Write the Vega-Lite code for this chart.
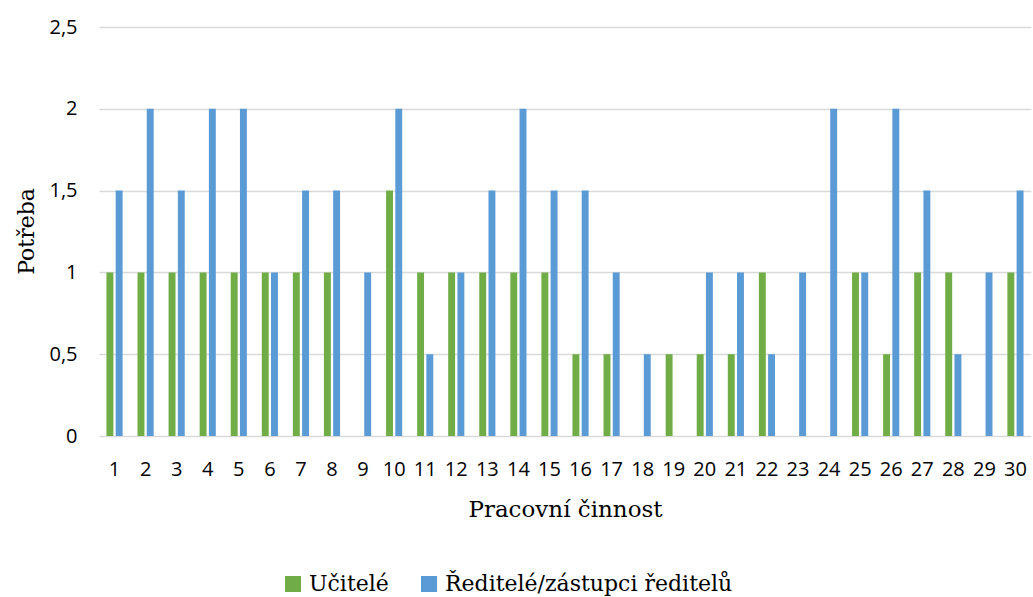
{
  "$schema": "https://vega.github.io/schema/vega-lite/v6.json",
  "width": 932,
  "height": 409,
  "autosize": "none",
  "padding": {"left": 99, "top": 27, "right": 2, "bottom": 161},
  "background": "white",
  "data": {
    "values": [
      {"c": 1, "s": "Učitelé", "v": 1}, {"c": 1, "s": "Ředitelé/zástupci ředitelů", "v": 1.5},
      {"c": 2, "s": "Učitelé", "v": 1}, {"c": 2, "s": "Ředitelé/zástupci ředitelů", "v": 2},
      {"c": 3, "s": "Učitelé", "v": 1}, {"c": 3, "s": "Ředitelé/zástupci ředitelů", "v": 1.5},
      {"c": 4, "s": "Učitelé", "v": 1}, {"c": 4, "s": "Ředitelé/zástupci ředitelů", "v": 2},
      {"c": 5, "s": "Učitelé", "v": 1}, {"c": 5, "s": "Ředitelé/zástupci ředitelů", "v": 2},
      {"c": 6, "s": "Učitelé", "v": 1}, {"c": 6, "s": "Ředitelé/zástupci ředitelů", "v": 1},
      {"c": 7, "s": "Učitelé", "v": 1}, {"c": 7, "s": "Ředitelé/zástupci ředitelů", "v": 1.5},
      {"c": 8, "s": "Učitelé", "v": 1}, {"c": 8, "s": "Ředitelé/zástupci ředitelů", "v": 1.5},
      {"c": 9, "s": "Učitelé", "v": 0}, {"c": 9, "s": "Ředitelé/zástupci ředitelů", "v": 1},
      {"c": 10, "s": "Učitelé", "v": 1.5}, {"c": 10, "s": "Ředitelé/zástupci ředitelů", "v": 2},
      {"c": 11, "s": "Učitelé", "v": 1}, {"c": 11, "s": "Ředitelé/zástupci ředitelů", "v": 0.5},
      {"c": 12, "s": "Učitelé", "v": 1}, {"c": 12, "s": "Ředitelé/zástupci ředitelů", "v": 1},
      {"c": 13, "s": "Učitelé", "v": 1}, {"c": 13, "s": "Ředitelé/zástupci ředitelů", "v": 1.5},
      {"c": 14, "s": "Učitelé", "v": 1}, {"c": 14, "s": "Ředitelé/zástupci ředitelů", "v": 2},
      {"c": 15, "s": "Učitelé", "v": 1}, {"c": 15, "s": "Ředitelé/zástupci ředitelů", "v": 1.5},
      {"c": 16, "s": "Učitelé", "v": 0.5}, {"c": 16, "s": "Ředitelé/zástupci ředitelů", "v": 1.5},
      {"c": 17, "s": "Učitelé", "v": 0.5}, {"c": 17, "s": "Ředitelé/zástupci ředitelů", "v": 1},
      {"c": 18, "s": "Učitelé", "v": 0}, {"c": 18, "s": "Ředitelé/zástupci ředitelů", "v": 0.5},
      {"c": 19, "s": "Učitelé", "v": 0.5}, {"c": 19, "s": "Ředitelé/zástupci ředitelů", "v": 0},
      {"c": 20, "s": "Učitelé", "v": 0.5}, {"c": 20, "s": "Ředitelé/zástupci ředitelů", "v": 1},
      {"c": 21, "s": "Učitelé", "v": 0.5}, {"c": 21, "s": "Ředitelé/zástupci ředitelů", "v": 1},
      {"c": 22, "s": "Učitelé", "v": 1}, {"c": 22, "s": "Ředitelé/zástupci ředitelů", "v": 0.5},
      {"c": 23, "s": "Učitelé", "v": 0}, {"c": 23, "s": "Ředitelé/zástupci ředitelů", "v": 1},
      {"c": 24, "s": "Učitelé", "v": 0}, {"c": 24, "s": "Ředitelé/zástupci ředitelů", "v": 2},
      {"c": 25, "s": "Učitelé", "v": 1}, {"c": 25, "s": "Ředitelé/zástupci ředitelů", "v": 1},
      {"c": 26, "s": "Učitelé", "v": 0.5}, {"c": 26, "s": "Ředitelé/zástupci ředitelů", "v": 2},
      {"c": 27, "s": "Učitelé", "v": 1}, {"c": 27, "s": "Ředitelé/zástupci ředitelů", "v": 1.5},
      {"c": 28, "s": "Učitelé", "v": 1}, {"c": 28, "s": "Ředitelé/zástupci ředitelů", "v": 0.5},
      {"c": 29, "s": "Učitelé", "v": 0}, {"c": 29, "s": "Ředitelé/zástupci ředitelů", "v": 1},
      {"c": 30, "s": "Učitelé", "v": 1}, {"c": 30, "s": "Ředitelé/zástupci ředitelů", "v": 1.5}
    ]
  },
  "mark": {"type": "bar"},
  "encoding": {
    "x": {
      "field": "c",
      "type": "ordinal",
      "sort": "ascending",
      "scale": {"paddingInner": 0.48, "paddingOuter": 0.24},
      "axis": {
        "title": "Pracovní činnost",
        "labelAngle": 0,
        "labelFont": "Open Sans",
        "labelFontSize": 20,
        "labelColor": "#000000",
        "labelBaseline": "alphabetic",
        "labelPadding": 39,
        "ticks": false,
        "tickSize": 0,
        "domain": false,
        "titleFont": "DejaVu Serif",
        "titleFontSize": 23,
        "titleFontWeight": "normal",
        "titleColor": "#000000",
        "titlePadding": 19
      }
    },
    "xOffset": {
      "field": "s",
      "type": "nominal",
      "sort": ["Učitelé", "Ředitelé/zástupci ředitelů"],
      "scale": {"paddingInner": 0.25}
    },
    "y": {
      "field": "v",
      "type": "quantitative",
      "scale": {"domain": [0, 2.5], "nice": false},
      "axis": {
        "title": "Potřeba",
        "values": [0, 0.5, 1, 1.5, 2, 2.5],
        "labelExpr": "replace(format(datum.value, '~g'), '.', ',')",
        "labelFont": "Open Sans",
        "labelFontSize": 20,
        "labelColor": "#000000",
        "labelPadding": 22,
        "ticks": false,
        "tickSize": 0,
        "domain": false,
        "grid": true,
        "gridColor": "#D9D9D9",
        "gridWidth": 1.5,
        "titleFont": "DejaVu Serif",
        "titleFontSize": 22,
        "titleFontWeight": "normal",
        "titleColor": "#000000",
        "titleX": -66,
        "titleY": 204,
        "titleAngle": -90,
        "titleBaseline": "alphabetic",
        "titleAlign": "center"
      }
    },
    "color": {
      "field": "s",
      "type": "nominal",
      "sort": ["Učitelé", "Ředitelé/zástupci ředitelů"],
      "scale": {"domain": ["Učitelé", "Ředitelé/zástupci ředitelů"], "range": ["#70AD47", "#5B9BD5"]},
      "legend": {
        "title": null,
        "orient": "none",
        "direction": "horizontal",
        "legendX": 183,
        "legendY": 546,
        "symbolType": "square",
        "symbolSize": 256,
        "symbolStrokeWidth": 0,
        "labelFont": "DejaVu Serif",
        "labelFontSize": 22,
        "labelLimit": 0,
        "labelColor": "#000000",
        "labelOffset": 5,
        "columnPadding": 29
      }
    }
  },
  "config": {
    "view": {"stroke": null}
  }
}
